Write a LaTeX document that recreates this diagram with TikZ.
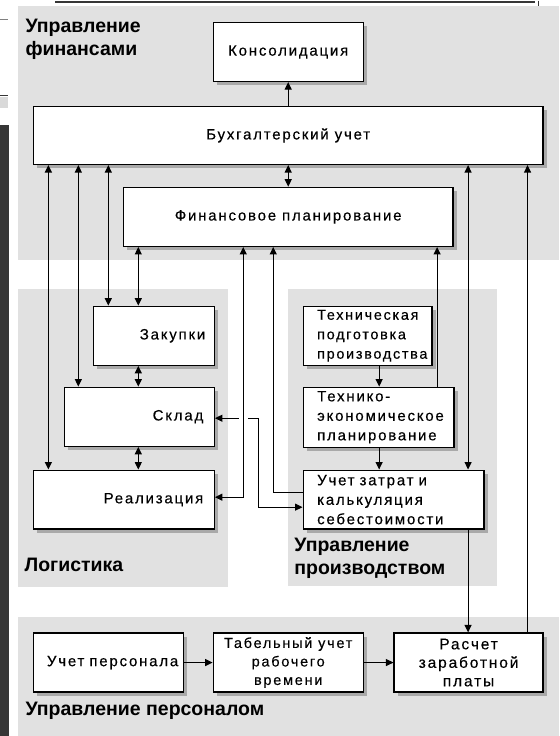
\documentclass[tikz,border=0pt]{standalone}
\usepackage{fontspec}
\setmainfont{Liberation Sans}
\newfontfamily\boxfont[LetterSpace=12,FakeBold=0.3]{Liberation Sans}
\usetikzlibrary{arrows.meta,shadows}
\definecolor{panel}{HTML}{E1E1E1}
\definecolor{darkbar}{HTML}{363636}
\begin{document}
\begin{tikzpicture}[x=1pt,y=-1pt,
  myhead/.tip={Triangle[length=7.5pt,width=7pt]},
  conn/.style={line width=1.1pt,draw=black},
  one/.style={conn,-myhead},
  two/.style={conn,myhead-myhead},
  box/.style={draw=black,line width=1.3pt,fill=white,rectangle,inner sep=0pt,
    font=\boxfont\fontsize{15}{19.5}\selectfont,
    drop shadow={shadow xshift=3.5pt,shadow yshift=-3.5pt,fill=black!55,opacity=0.5}},
  cbox/.style={box,align=center},
  rbox/.style={box,align=right},
  lbox/.style={box,align=left},
  ttl/.style={anchor=base west,inner sep=0pt,font=\bfseries\fontsize{19.5}{23}\selectfont},
  pnl/.style={fill=panel,draw=none}
]
% background and frame remnants
\fill[white] (0,0) rectangle (559,736);
\fill[darkbar] (0,125) rectangle (9,736);
\fill[darkbar] (55,0) rectangle (535,3);
\draw[darkbar,line width=1pt] (538,0) -- (538,8);
\draw[gray,line width=0.8pt] (0,19) -- (8,19);
\draw[darkbar,line width=0.8pt] (0,95) -- (8,95);
\fill[gray!30] (0,97) rectangle (8,108);

% panels
\path[pnl] (18,6) rectangle (559,260);
\path[pnl] (18,289) rectangle (228,587);
\path[pnl] (288,289) rectangle (497,586);
\path[pnl] (18,617) rectangle (559,736);

% titles
\node[ttl] (tf1) at (25,32.5) {Управление};
\node[ttl] (tf2) at (25,55) {финансами};
\node[ttl] (tl) at (24,571.5) {Логистика};
\node[ttl] (tp1) at (294,551.5) {Управление};
\node[ttl] (tp2) at (294,574.5) {производством};
\node[ttl] (tpe) at (25,715) {Управление персоналом};

% boxes
\node[cbox,minimum width=150pt,minimum height=59pt] (kons) at (288,51.5) {Консолидация};
\node[cbox,minimum width=510pt,minimum height=58pt] (buh) at (288,135) {Бухгалтерский учет};
\node[cbox,minimum width=330pt,minimum height=59pt] (fin) at (288,216.5) {Финансовое планирование};
\node[rbox,minimum width=121pt,text width=103pt,minimum height=59pt] (zak) at (153.5,335.5) {Закупки};
\node[rbox,minimum width=150pt,text width=128pt,minimum height=59pt] (skl) at (139,416.5) {Склад};
\node[rbox,minimum width=181pt,text width=159pt,minimum height=59pt] (real) at (123.5,499.5) {Реализация};
\node[lbox,minimum width=129pt,text width=101pt,minimum height=59pt,font=\boxfont\fontsize{14.4}{19.5}\selectfont] (tpp) at (367.5,335.5) {Техническая\\подготовка\\производства};
\node[lbox,minimum width=151pt,text width=123pt,minimum height=60pt] (tep) at (378.5,417) {Технико-\\экономическое\\планирование};
\node[lbox,minimum width=181pt,text width=153pt,minimum height=59pt] (uz) at (393.5,499.5) {Учет затрат и\\калькуляция\\себестоимости};
\node[rbox,minimum width=150pt,text width=140pt,minimum height=59pt] (up) at (108,662.5) {Учет персонала};
\node[cbox,minimum width=150pt,minimum height=59pt,font=\boxfont\fontsize{14.5}{18.5}\selectfont] (tab) at (288,662.5) {Табельный учет\\рабочего\\времени};
\node[cbox,minimum width=149pt,minimum height=59pt,font=\boxfont\fontsize{15.5}{18.5}\selectfont] (ras) at (468.5,662.5) {Расчет\\заработной\\платы};

% helper coordinates
\coordinate (x48) at (48,0);
\coordinate (x78) at (78,0);
\coordinate (x108) at (108,0);
\coordinate (x138) at (138,0);
\coordinate (x379) at (379,0);
\coordinate (x437) at (437,0);
\coordinate (x468) at (468,0);
\coordinate (x527) at (527.5,0);
\coordinate (j1) at (243,497);
\coordinate (j2) at (273,492);
\coordinate (j3) at (258,418);
\coordinate (j4) at (258,507);
\coordinate (g1) at (238.5,418);
\coordinate (g2) at (247.5,418);

% connectors
\draw[one] (buh.north) -- (kons.south);
\draw[two] (buh.south) -- (fin.north);
\draw[two] (buh.south -| x48) -- (real.north -| x48);
\draw[two] (buh.south -| x78) -- (skl.north -| x78);
\draw[two] (buh.south -| x108) -- (zak.north -| x108);
\draw[two] (fin.south -| x138) -- (zak.north -| x138);
\draw[two] (zak.south -| x138) -- (skl.north -| x138);
\draw[two] (skl.south -| x138) -- (real.north -| x138);
\draw[two] (skl.east |- j3) -- (j3) -- (j4) -- (uz.west |- j4);
\draw[white,line width=2.5pt] (g1) -- (g2);
\draw[two] (fin.south -| j1) -- (j1) -- (real.east |- j1);
\draw[one] (uz.west |- j2) -- (j2) -- (fin.south -| j2);
\draw[one] (tep.north -| x437) -- (fin.south -| x437);
\draw[one] (tpp.south -| x379) -- (tep.north -| x379);
\draw[one] (tep.south -| x379) -- (uz.north -| x379);
\draw[two] (buh.south -| x468) -- (uz.north -| x468);
\draw[one] (uz.south -| x468) -- (ras.north -| x468);
\draw[one] (ras.north -| x527) -- (buh.south -| x527);
\draw[one] (up.east) -- (tab.west);
\draw[one] (tab.east) -- (ras.west);
\end{tikzpicture}
\end{document}
